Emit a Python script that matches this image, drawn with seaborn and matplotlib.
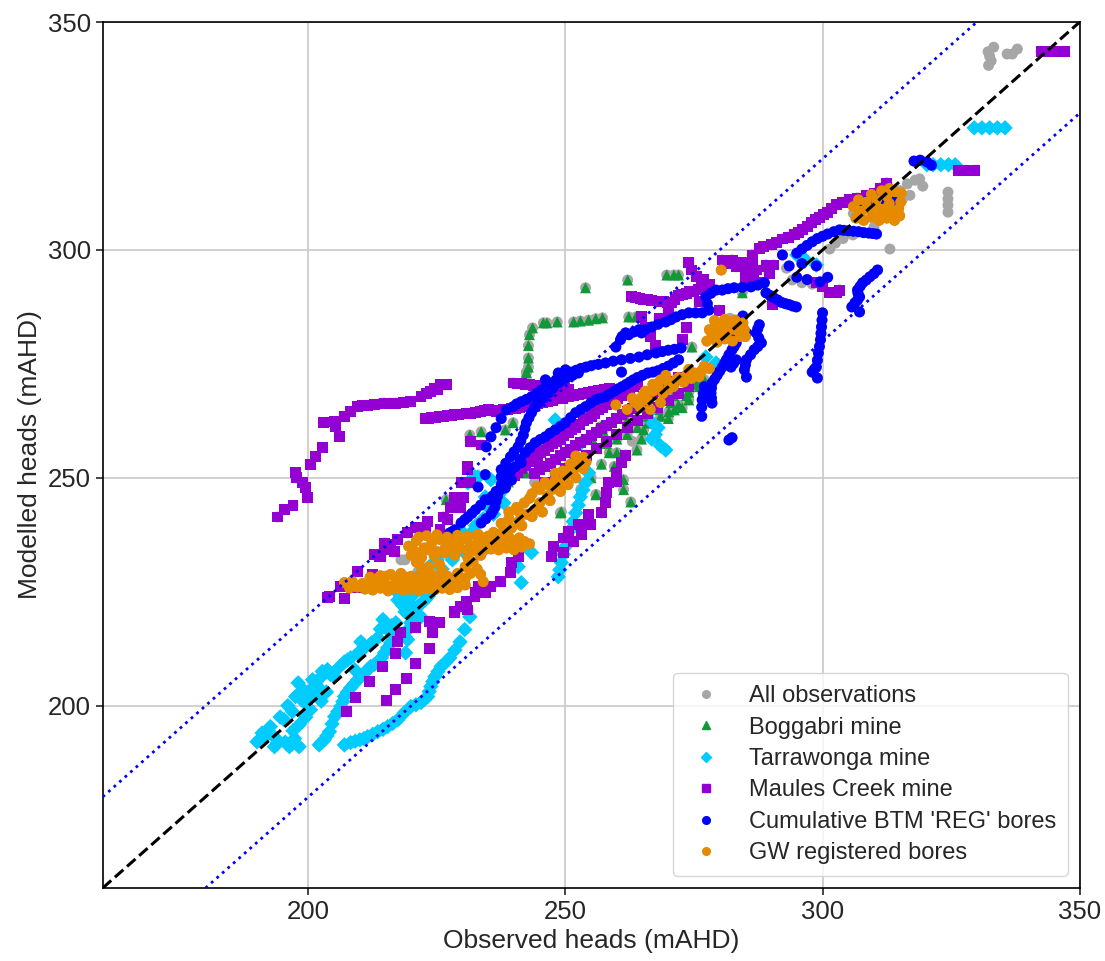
import pandas as pd
import matplotlib
matplotlib.use("Agg")
import matplotlib.pyplot as plt
import seaborn as sns
from matplotlib.lines import Line2D

# (observed, modelled) heads, per group
grey_only = [
    (332.2, 343.5), (332.5, 342.5), (332.8, 341.5), (332.3, 340.5), (333.3, 344.5),
    (335.9, 343.0), (336.9, 343.0), (337.9, 344.1),
    (311.1, 307.7), (312.5, 309.5), (313.5, 311.5), (315.0, 313.0), (316.5, 314.5),
    (318.0, 315.3), (318.9, 315.6), (317.0, 312.0), (315.5, 311.0), (319.5, 314.0),
    (324.4, 312.7), (324.4, 311.2), (324.4, 309.8), (324.4, 308.3),
    (301.4, 300.2), (302.5, 301.5), (304.0, 302.5), (305.9, 303.3),
    (294.1, 293.4), (296.0, 292.8), (298.0, 292.5), (300.0, 292.8), (313.1, 300.2),
    (218.0, 232.0), (221.3, 229.4), (229.1, 227.0), (218.8, 232.0), (229.1, 226.5),
    (306.0, 308.0), (307.5, 309.5), (282.0, 285.0), (263.0, 258.0), (244.0, 249.0),
    (310.0, 305.0), (293.0, 296.0),
]

boggabri = [
    (242.4, 273.0), (242.8, 274.3), (242.8, 276.3), (242.8, 279.0), (243.0, 281.4),
    (243.6, 282.9), (245.7, 284.0), (246.4, 284.0), (248.4, 284.2), (251.6, 284.2),
    (252.9, 284.4), (254.5, 284.6), (255.9, 284.9), (257.2, 285.1), (253.9, 291.7),
    (262.1, 293.4), (262.3, 285.3), (263.7, 285.3), (269.7, 294.5), (271.1, 294.5),
    (272.0, 294.5), (284.4, 290.6), (274.6, 278.7),
    (231.4, 259.4), (233.6, 260.1), (238.3, 260.5), (239.8, 262.1), (242.4, 273.2),
    (226.8, 245.2), (235.0, 244.1), (242.2, 251.1), (238.9, 249.1),
    (249.0, 242.3), (249.2, 242.5), (255.9, 246.3), (256.0, 246.3), (262.7, 244.7),
    (261.3, 249.6), (261.3, 247.4), (255.1, 258.8), (256.8, 261.2), (257.3, 260.4),
    (270.1, 264.5), (271.2, 264.9), (272.7, 265.4), (274.0, 267.1), (276.0, 270.0),
    (265.2, 260.5), (263.9, 256.1), (266.0, 262.0), (268.5, 263.5), (270.5, 266.5),
    (273.5, 268.0), (275.5, 270.5), (277.0, 271.5), (267.5, 259.0), (264.8, 258.5),
    (258.5, 255.5), (259.5, 252.5),
    (258.0, 257.5), (260.0, 258.5), (262.0, 259.5), (264.0, 261.0), (266.0, 263.5),
    (268.0, 265.0), (270.0, 263.0), (272.0, 266.0), (274.0, 268.8), (271.0, 268.0),
    (262.0, 262.5), (260.0, 255.5), (257.0, 253.0), (255.0, 250.0), (253.0, 247.5),
]

tarrawonga = [
    (190.0, 192.1), (191.6, 193.2), (192.6, 195.4), (193.4, 191.0), (194.0, 191.9),
    (196.3, 191.0), (198.2, 191.0), (195.3, 196.9), (196.9, 198.7), (198.2, 195.8),
    (199.2, 200.7), (200.4, 199.1), (201.2, 202.9), (200.8, 205.7), (201.8, 204.2),
    (202.7, 207.5), (203.7, 207.9), (205.1, 206.4), (207.0, 209.6), (208.2, 210.5),
    (209.0, 207.9), (210.2, 214.0), (211.1, 212.9), (213.5, 214.9), (214.5, 218.9),
    (215.4, 216.7), (217.0, 218.2), (217.4, 223.2), (218.8, 220.6), (219.3, 214.5),
    (220.7, 219.5), (219.3, 224.8),
    (196.0, 200.0), (197.5, 202.0), (199.0, 203.5), (198.0, 205.0), (200.0, 201.5),
    (202.5, 201.0), (203.5, 203.0), (194.5, 197.5), (197.0, 194.5),
    (191.0, 194.0), (193.5, 193.0), (195.5, 192.0), (197.3, 192.8), (199.5, 197.5),
    (200.5, 203.5), (202.2, 206.0), (204.3, 206.8), (206.0, 208.5), (207.6, 210.0),
    (209.6, 211.5), (212.3, 213.8), (214.0, 216.8), (216.2, 217.6), (218.3, 222.0),
    (219.8, 222.5), (220.3, 224.2), (218.2, 224.5),
    (202.1, 191.4), (203.1, 192.5), (204.1, 194.3), (205.1, 197.6), (206.3, 199.8),
    (207.0, 202.0), (208.2, 203.9), (209.6, 205.7), (210.9, 207.2), (212.1, 208.6),
    (213.5, 209.4), (214.8, 211.6), (216.0, 213.8), (216.8, 216.7), (218.8, 215.1),
    (218.9, 211.6), (219.9, 218.2), (221.3, 221.7), (222.7, 223.2), (223.8, 224.8),
    (202.6, 192.0), (203.6, 193.4), (204.6, 196.0), (205.7, 198.7), (206.7, 200.9),
    (207.6, 203.0), (208.9, 204.8), (210.3, 206.5), (211.5, 207.9), (212.8, 209.0),
    (214.2, 210.5), (215.4, 212.7), (216.4, 215.3), (219.4, 216.7), (220.6, 220.0),
    (222.0, 222.5), (223.3, 224.0),
    (207.0, 191.4), (208.2, 191.9), (210.0, 192.5), (211.5, 193.2), (213.5, 194.3),
    (215.4, 195.4), (217.4, 196.9), (219.9, 199.8), (221.9, 200.7), (223.2, 202.0),
    (223.8, 204.2), (224.6, 206.4), (225.8, 208.6), (227.5, 210.5), (229.5, 214.0),
    (231.4, 219.5),
    (209.1, 192.2), (210.8, 192.8), (212.5, 193.7), (214.5, 194.8), (216.4, 196.1),
    (218.6, 198.4), (220.9, 200.2), (222.5, 201.3), (223.5, 203.1), (224.2, 205.3),
    (225.2, 207.5), (226.7, 209.5), (228.5, 212.2), (230.4, 216.7),
    (216.8, 225.4), (218.0, 223.5), (220.0, 222.0), (221.9, 219.5), (222.5, 225.0),
    (224.5, 228.0), (226.0, 230.0), (226.6, 236.4), (229.5, 238.6), (231.6, 237.9),
    (233.0, 250.2), (231.0, 248.9), (234.4, 245.8), (232.4, 250.2), (235.5, 249.6),
    (237.5, 246.9), (240.8, 252.4), (242.8, 254.6), (248.0, 262.7), (253.1, 257.7),
    (252.0, 254.6), (241.4, 227.0), (243.4, 233.6), (240.8, 230.5), (236.0, 242.0),
    (238.0, 244.5), (228.0, 232.0), (230.0, 234.0),
    (219.0, 226.0), (220.5, 227.5), (222.0, 229.0), (223.5, 230.5), (225.0, 232.0),
    (227.0, 234.0), (228.5, 236.0), (230.0, 237.0), (232.5, 239.5), (234.0, 241.0),
    (235.0, 243.5),
    (248.6, 228.3), (249.2, 231.4), (250.0, 234.9), (251.0, 238.6), (252.0, 242.3),
    (252.9, 245.8), (253.9, 248.9), (254.5, 251.1), (248.9, 229.8), (249.6, 233.2),
    (250.5, 236.8), (251.5, 240.4), (252.5, 244.0), (253.4, 247.3),
    (266.2, 264.3), (267.0, 262.0), (267.5, 259.5), (268.5, 257.0), (269.5, 256.1),
    (268.0, 261.0), (266.8, 258.5),
    (277.3, 276.5), (279.3, 275.2), (298.8, 296.7), (295.0, 298.9), (296.5, 298.0),
    (320.3, 318.7), (321.5, 318.7), (323.0, 318.7), (324.5, 318.7), (325.8, 318.7),
    (329.5, 326.8), (331.0, 326.8), (332.5, 326.8), (334.0, 326.8), (335.5, 326.8),
]

maules_creek = [
    (194.0, 241.4), (195.3, 243.0), (197.0, 243.9), (197.5, 251.1), (197.7, 250.0),
    (198.8, 248.9), (199.4, 247.8), (199.8, 245.6), (200.4, 252.9), (201.4, 254.6),
    (202.7, 256.6), (202.9, 262.1), (205.0, 262.3), (205.3, 261.2), (206.0, 259.0),
    (207.0, 263.4), (208.2, 264.5), (209.6, 265.6), (212.9, 266.0), (214.8, 266.4),
    (217.0, 266.4), (219.9, 266.7), (221.9, 267.8), (222.9, 268.6), (224.6, 269.7),
    (225.6, 270.4), (226.8, 270.4), (223.8, 268.9), (225.2, 269.4),
    (210.5, 265.8), (211.5, 265.9), (213.8, 266.2), (215.8, 266.4), (218.5, 266.6),
    (222.7, 263.0), (224.0, 263.2), (225.5, 263.4), (227.0, 263.6), (228.5, 263.8),
    (230.0, 264.0), (231.5, 264.2), (233.5, 264.5), (235.0, 264.9), (236.5, 264.6),
    (238.0, 264.9), (239.5, 265.2), (241.0, 265.5), (242.5, 265.8), (244.5, 266.2),
    (246.5, 266.8), (248.5, 267.3), (250.5, 267.8), (252.5, 268.3), (254.5, 268.7),
    (256.5, 269.2), (258.5, 269.5),
    (223.4, 263.1), (224.8, 263.3), (226.2, 263.5), (227.8, 263.7), (229.2, 263.9),
    (230.8, 264.1), (232.5, 264.3), (234.2, 264.7), (235.8, 264.8), (237.2, 264.7),
    (238.8, 265.0), (240.2, 265.3), (241.8, 265.6), (243.5, 266.0), (245.5, 266.5),
    (247.5, 267.0), (249.5, 267.5), (251.5, 268.0), (253.5, 268.5), (255.5, 269.0),
    (257.5, 269.3),
    (239.8, 270.8), (241.5, 270.6), (243.0, 270.4), (244.5, 270.2), (246.0, 270.0),
    (247.5, 269.8), (249.0, 269.6), (250.5, 269.4),
    (240.6, 270.7), (242.2, 270.5), (243.8, 270.3), (245.2, 270.1), (246.8, 269.9),
    (248.2, 269.7), (249.8, 269.5),
    (262.9, 289.7), (264.5, 289.4), (266.0, 289.1), (267.5, 288.8), (269.0, 288.6),
    (270.7, 288.4), (272.0, 290.0), (273.5, 290.5), (275.0, 291.0), (276.5, 291.8),
    (278.0, 292.5),
    (263.7, 289.5), (265.2, 289.2), (266.8, 289.0), (268.2, 288.7), (269.8, 288.5),
    (271.3, 289.2), (272.8, 290.2), (274.2, 290.8), (275.8, 291.4), (277.2, 292.1),
    (274.0, 297.2), (274.6, 295.6), (275.4, 294.1), (276.8, 293.5),
    (280.5, 297.8), (281.8, 297.0), (283.2, 296.3), (283.8, 297.2), (285.2, 296.0),
    (286.5, 295.0), (285.0, 293.8), (286.5, 293.3), (288.0, 292.8),
    (298.8, 292.8), (300.0, 292.0), (301.4, 290.6),
    (282.4, 297.8), (283.5, 296.7), (285.0, 295.8), (285.7, 297.2), (287.1, 295.6),
    (289.0, 296.7), (290.5, 296.7), (286.3, 298.9),
    (264.8, 285.3), (265.5, 283.0), (266.5, 281.0), (267.5, 279.0), (268.2, 285.0),
    (272.7, 280.3), (273.6, 282.9), (279.9, 286.8), (276.0, 288.6), (270.0, 286.5),
    (286.3, 296.7), (287.7, 300.4), (290.0, 301.1), (292.2, 302.4), (294.5, 303.3),
    (296.1, 304.4), (297.8, 306.1), (299.4, 307.2), (301.0, 308.3), (302.7, 309.9),
    (303.9, 310.5), (306.8, 311.4), (310.2, 312.5), (312.5, 314.7), (289.0, 296.3),
    (289.6, 294.9), (303.3, 291.2), (302.7, 290.6), (290.2, 288.0),
    (288.5, 300.7), (291.1, 301.7), (293.3, 302.8), (295.3, 303.8), (297.0, 305.2),
    (298.6, 306.6), (300.2, 307.7), (301.8, 309.0), (305.3, 311.0), (308.5, 312.0),
    (311.3, 313.6),
    (326.5, 317.5), (328.0, 317.5), (329.5, 317.5),
    (342.5, 343.6), (344.0, 343.6), (345.5, 343.6), (347.0, 343.6),
    (203.7, 223.7), (207.0, 223.5), (206.3, 226.1), (209.0, 225.9), (209.6, 229.4),
    (212.5, 228.7), (212.9, 233.1), (214.1, 232.7), (215.8, 234.9), (217.4, 236.4),
    (219.3, 237.9), (220.9, 239.0), (222.7, 239.0), (223.2, 240.4), (204.1, 223.9),
    (209.2, 225.9), (223.6, 218.4), (225.6, 218.2), (224.2, 216.0), (220.9, 217.1),
    (218.0, 216.0), (217.4, 214.0), (223.6, 212.5), (217.0, 211.4), (220.9, 209.2),
    (214.5, 208.6), (219.1, 205.9), (211.9, 205.3), (217.0, 203.5), (209.2, 201.8),
    (215.2, 201.1), (207.4, 198.7), (228.5, 220.6), (229.5, 221.7), (230.7, 222.8),
    (231.0, 221.0), (232.4, 224.8),
    (231.0, 251.8), (228.5, 245.6), (230.1, 245.6), (227.7, 243.4), (229.5, 243.4),
    (226.2, 241.4), (227.1, 240.8), (225.6, 238.6), (216.0, 235.3), (214.8, 234.2),
    (216.8, 233.8), (213.9, 232.7), (214.8, 235.7), (231.6, 257.9), (233.6, 257.2),
    (231.0, 252.4), (229.7, 248.9), (231.6, 248.9),
    (257.0, 242.3), (257.8, 244.5), (258.0, 246.7), (258.4, 248.9), (260.0, 249.1),
    (254.5, 241.9), (254.9, 239.7), (252.9, 239.7), (253.1, 237.5), (251.6, 236.0),
    (250.6, 238.2), (249.6, 233.6), (260.0, 251.1), (260.9, 253.3), (261.7, 255.0),
    (252.5, 239.7), (249.6, 236.8), (247.7, 234.9), (247.3, 232.7), (240.8, 232.7),
    (239.5, 231.4), (239.3, 229.2), (237.3, 227.2), (235.5, 226.1), (233.0, 226.1),
    (234.4, 224.8), (232.4, 223.9), (231.0, 221.0), (228.5, 220.4),
    (240.0, 250.5), (241.5, 252.0), (243.0, 253.5), (244.5, 255.0), (246.0, 256.0),
    (247.5, 257.5), (249.0, 258.5), (250.5, 260.0), (252.0, 261.0), (253.5, 262.5),
    (255.0, 263.5), (256.5, 265.0), (258.0, 266.0), (259.5, 267.0), (261.0, 268.0),
    (262.5, 269.5), (264.0, 270.5),
    (240.7, 251.2), (242.2, 252.7), (243.7, 254.2), (245.2, 255.5), (246.7, 256.8),
    (248.2, 258.0), (249.7, 259.2), (251.2, 260.5), (252.7, 261.8), (254.2, 263.0),
    (255.7, 264.2), (257.2, 265.5), (258.7, 266.5), (260.2, 267.5), (261.7, 268.7),
    (263.2, 270.0),
    (244.0, 251.0), (246.0, 252.5), (248.0, 254.0), (250.0, 255.5), (252.0, 257.0),
    (254.0, 258.5), (256.0, 260.0), (258.0, 261.5), (260.0, 263.0), (262.0, 264.5),
    (264.0, 266.0), (266.0, 267.5), (268.0, 269.0), (270.0, 270.5), (272.0, 272.0),
    (245.0, 251.8), (247.0, 253.2), (249.0, 254.8), (251.0, 256.2), (253.0, 257.8),
    (255.0, 259.2), (257.0, 260.8), (259.0, 262.2), (261.0, 263.8), (263.0, 265.2),
    (265.0, 266.8), (267.0, 268.2), (269.0, 269.8), (271.0, 271.2),
    (246.0, 249.0), (248.0, 250.5), (250.0, 252.0), (252.0, 253.5), (254.0, 255.0),
    (256.0, 256.5), (258.0, 258.0), (260.0, 259.5), (262.0, 261.0), (264.0, 262.5),
    (266.0, 264.0), (268.0, 265.5), (270.0, 267.0), (272.0, 268.5), (274.0, 270.0),
]

btm_reg = [
    (234.6, 256.8), (236.5, 261.0), (238.5, 264.9), (239.8, 265.6), (241.4, 266.7),
    (243.4, 267.8), (245.3, 269.3), (247.3, 270.8), (249.2, 272.1), (251.2, 273.2),
    (253.0, 274.0), (255.0, 274.6), (257.8, 275.2), (260.9, 275.9), (264.3, 276.5),
    (267.6, 277.4), (270.0, 278.0), (272.5, 278.5),
    (235.5, 259.0), (237.5, 263.0), (240.5, 266.2), (242.4, 267.2), (244.4, 268.5),
    (246.3, 270.0), (248.2, 271.5), (250.2, 272.6), (252.1, 273.6), (254.0, 274.3),
    (256.4, 274.9), (259.3, 275.6), (262.6, 276.2), (265.9, 277.0), (268.8, 277.7),
    (271.2, 278.2),
    (233.6, 240.1), (235.5, 242.0), (236.3, 243.6), (236.8, 246.0), (237.5, 248.5),
    (237.5, 251.8), (239.3, 254.6), (240.8, 256.8), (241.8, 259.4), (242.4, 262.1),
    (243.4, 264.3), (244.7, 266.4), (246.7, 268.6), (248.6, 270.8), (250.2, 271.9),
    (252.5, 273.0), (248.6, 273.0), (246.1, 271.5), (250.0, 273.7),
    (234.5, 241.0), (235.9, 242.8), (236.5, 244.8), (237.1, 247.2), (237.5, 250.2),
    (238.4, 253.2), (240.0, 255.7), (241.3, 258.1), (242.1, 260.8), (242.9, 263.2),
    (244.0, 265.4), (245.7, 267.5), (247.6, 269.7), (249.4, 271.4), (251.4, 272.5),
    (238.3, 250.2), (240.2, 252.4), (242.2, 255.5), (244.1, 257.7), (246.1, 259.0),
    (248.0, 260.5), (250.0, 262.1), (252.0, 264.3), (253.9, 265.6), (255.9, 267.1),
    (257.8, 267.8), (259.5, 269.0), (261.0, 270.0), (262.5, 271.0), (264.0, 272.0),
    (266.0, 273.0), (268.0, 273.5), (270.0, 274.5), (272.0, 275.9),
    (239.3, 251.3), (241.2, 254.0), (243.1, 256.6), (245.1, 258.4), (247.0, 259.8),
    (249.0, 261.3), (251.0, 263.2), (253.0, 265.0), (254.9, 266.4), (256.8, 267.5),
    (258.6, 268.4), (260.2, 269.5), (261.8, 270.5), (263.2, 271.5), (265.0, 272.5),
    (267.0, 273.2), (269.0, 274.0), (271.0, 275.2),
    (227.5, 237.9), (228.5, 238.6), (229.7, 240.1), (231.0, 241.4), (232.5, 243.0),
    (234.4, 245.2), (235.0, 245.2), (236.5, 247.0), (238.3, 247.8), (239.5, 249.5),
    (241.4, 253.3), (233.0, 248.0), (234.4, 250.7), (238.3, 248.0),
    (228.0, 238.2), (230.4, 240.8), (231.8, 242.2), (233.5, 244.0), (235.8, 246.0),
    (237.4, 247.4),
    (259.8, 278.7), (260.7, 280.3), (261.7, 281.8), (262.3, 281.4), (264.3, 282.5),
    (264.8, 281.8), (266.8, 283.1), (269.5, 284.2), (271.5, 285.3), (274.0, 286.2),
    (276.6, 286.2), (277.9, 286.8), (277.3, 289.7), (279.3, 291.2), (280.5, 291.2),
    (282.8, 291.7), (286.1, 291.9), (288.7, 292.8), (260.9, 273.2),
    (261.0, 281.0), (263.3, 282.0), (265.5, 282.5), (268.0, 283.7), (270.5, 284.7),
    (272.7, 285.8), (275.3, 286.2), (277.6, 288.2), (278.3, 290.5), (281.6, 291.5),
    (284.4, 291.8), (287.4, 292.3),
    (278.5, 266.4), (278.3, 268.6), (278.5, 270.8), (279.5, 272.5), (280.5, 274.3),
    (281.3, 275.9), (282.4, 278.1), (283.2, 279.6), (282.4, 282.5),
    (278.4, 267.5), (278.4, 269.7), (279.0, 271.6), (280.0, 273.4), (280.9, 275.1),
    (281.8, 277.0), (282.8, 278.8), (282.8, 281.0),
    (287.7, 283.6), (287.1, 281.8), (288.1, 279.6), (286.7, 278.1), (285.2, 275.9),
    (284.8, 273.7), (285.2, 272.1), (283.8, 284.6), (285.2, 281.8), (283.2, 275.9),
    (282.2, 274.3), (276.6, 267.1), (277.0, 270.0), (281.8, 258.3), (282.4, 258.8),
    (287.4, 282.7), (287.6, 280.7), (287.4, 278.8), (286.0, 277.0), (285.0, 274.8),
    (284.5, 285.5), (282.7, 275.1), (276.8, 268.5), (276.5, 265.5), (276.5, 263.5),
    (289.0, 290.6), (290.5, 289.5), (292.0, 288.5), (293.5, 288.0), (294.9, 287.5),
    (289.8, 290.0), (291.3, 289.0), (292.8, 288.2), (294.2, 287.7),
    (300.0, 286.2), (299.8, 283.1), (299.6, 280.3), (299.2, 277.4), (298.8, 274.3),
    (298.0, 273.2), (299.0, 271.9),
    (299.9, 284.6), (299.7, 281.7), (299.4, 278.8), (299.0, 275.8), (298.4, 273.8),
    (310.7, 295.6), (309.2, 294.1), (307.8, 292.8), (306.8, 291.2), (307.2, 289.7),
    (306.3, 288.4), (305.7, 287.5), (307.2, 286.4),
    (310.0, 294.8), (308.5, 293.4), (307.3, 292.0), (306.9, 290.5), (306.8, 289.0),
    (292.2, 298.9), (293.5, 296.5), (295.0, 294.0), (297.0, 293.5), (299.5, 293.0),
    (301.0, 294.0), (296.0, 297.0), (298.8, 296.5),
    (295.0, 299.3), (297.0, 301.0), (299.0, 302.5), (301.0, 303.5), (303.3, 304.4),
    (305.0, 304.2), (307.0, 304.0), (309.0, 303.7), (310.5, 303.5),
    (296.0, 300.2), (298.0, 301.8), (300.0, 303.0), (302.2, 304.0), (304.1, 304.3),
    (306.0, 304.1), (308.0, 303.8), (309.8, 303.6),
    (308.0, 310.5), (309.5, 311.0), (311.0, 311.4), (312.5, 311.0), (314.0, 310.5),
    (308.8, 310.8), (310.3, 311.2), (311.8, 311.2), (313.3, 310.8),
    (317.8, 319.5), (319.0, 319.7), (320.3, 319.3), (321.2, 318.6),
]

gw_registered = [
    (207.0, 227.0), (208.5, 227.3), (210.5, 226.8), (212.5, 226.5), (214.0, 227.2),
    (215.5, 226.3), (217.0, 226.8), (218.5, 227.4), (220.0, 226.2), (221.5, 226.9),
    (223.0, 227.3), (224.5, 226.5), (226.0, 227.0), (227.5, 226.3), (229.0, 227.5),
    (230.5, 228.0), (231.5, 229.0), (232.8, 230.0), (233.5, 228.8),
    (208.0, 225.8), (209.5, 226.0), (211.0, 225.6), (212.5, 225.4), (214.0, 225.8),
    (215.5, 225.2), (217.0, 225.6), (218.5, 225.3), (220.0, 225.5), (221.5, 225.2),
    (223.0, 225.6), (224.5, 225.4), (226.0, 225.8), (227.5, 225.5), (229.0, 225.9),
    (230.5, 226.5),
    (212.0, 228.2), (213.5, 228.0), (215.0, 228.4), (217.0, 227.8), (219.0, 228.2),
    (221.0, 227.7), (223.0, 228.3), (225.0, 228.0), (227.0, 228.4), (229.0, 228.6),
    (214.0, 228.5), (216.0, 228.8), (218.0, 229.0), (220.0, 228.4), (222.0, 229.5),
    (224.0, 228.8), (226.0, 229.6), (221.5, 231.2), (223.5, 230.5), (225.5, 231.0),
    (219.5, 235.0), (221.0, 236.2), (222.5, 234.6), (224.0, 235.8), (225.5, 236.5),
    (227.0, 234.9), (228.5, 235.9), (230.0, 236.6), (231.5, 235.2), (233.0, 236.3),
    (234.5, 235.0), (236.0, 236.0), (237.5, 235.5), (239.0, 235.8), (240.5, 235.4),
    (242.0, 236.0), (220.0, 233.0), (221.0, 231.5), (222.0, 232.5), (224.5, 232.8),
    (226.5, 233.5), (228.5, 233.0),
    (220.5, 234.0), (222.0, 233.6), (223.5, 234.2), (225.0, 233.8), (226.5, 234.4),
    (228.0, 234.0), (229.5, 234.6), (231.0, 234.2), (232.5, 234.6), (234.0, 234.0),
    (235.5, 234.4), (237.0, 234.2), (238.5, 234.6), (240.0, 234.2), (241.5, 234.8),
    (243.0, 235.5),
    (221.5, 237.0), (223.0, 237.3), (225.0, 237.5), (227.0, 237.0), (229.0, 237.4),
    (231.0, 237.2), (233.0, 237.6), (235.0, 237.2), (237.0, 237.4), (239.0, 237.0),
    (241.0, 236.8),
    (229.0, 229.0), (230.5, 230.5), (232.0, 231.5), (233.5, 233.0), (235.0, 234.5),
    (236.5, 236.0), (238.0, 237.5), (239.5, 239.0), (241.0, 240.5), (242.5, 242.0),
    (244.0, 243.0), (245.0, 244.5), (246.5, 246.0), (247.5, 247.5), (249.0, 249.0),
    (250.0, 250.5), (251.5, 251.5), (252.5, 252.5), (248.0, 251.0), (246.0, 249.0),
    (244.5, 248.0), (243.0, 245.5), (241.0, 242.5), (239.0, 241.0), (238.0, 238.5),
    (250.5, 248.5), (252.0, 250.0), (253.5, 252.0), (254.0, 253.5), (252.8, 254.0),
    (231.0, 232.5), (232.5, 234.0), (234.0, 236.8), (236.0, 238.0), (237.5, 240.0),
    (239.0, 242.5), (240.5, 243.5), (242.0, 244.5), (243.5, 246.5), (245.0, 247.5),
    (246.5, 248.5), (248.0, 249.5), (249.5, 251.5), (251.0, 253.0), (252.0, 254.8),
    (253.5, 254.5), (249.0, 247.0), (247.0, 245.0), (245.5, 242.5), (243.5, 241.5),
    (241.5, 239.5),
    (234.0, 227.2),
    (263.5, 266.5), (265.0, 268.0), (266.0, 267.0), (267.0, 269.0), (268.0, 270.0),
    (269.0, 268.5), (270.0, 271.0), (271.0, 270.0), (272.0, 272.0), (273.5, 272.5),
    (275.0, 273.0), (276.5, 273.5), (278.0, 274.0), (266.5, 265.0), (264.5, 265.5),
    (268.5, 266.5), (259.8, 266.0),
    (262.0, 265.0), (263.0, 267.5), (264.5, 267.0), (265.5, 269.0), (267.0, 270.5),
    (268.5, 271.5), (270.0, 269.5), (271.5, 271.5), (273.0, 271.0), (274.5, 271.8),
    (276.0, 272.2), (277.0, 274.5), (274.0, 273.8), (269.5, 272.5),
    (277.5, 280.0), (278.5, 281.5), (279.5, 283.0), (280.5, 283.8), (282.0, 284.2),
    (283.5, 283.5), (284.8, 282.5), (284.0, 281.0), (282.5, 280.0), (281.0, 280.5),
    (279.5, 279.8), (280.0, 282.0), (280.3, 295.6),
    (278.0, 282.5), (279.0, 284.5), (281.0, 284.8), (283.0, 284.6), (284.5, 284.0),
    (285.0, 281.0), (283.0, 282.5), (281.5, 282.0), (278.8, 280.8),
    (306.5, 307.0), (308.0, 306.5), (309.5, 307.2), (311.0, 306.5), (312.5, 307.0),
    (314.0, 306.5), (315.0, 307.5), (314.8, 309.0), (313.5, 308.5), (312.0, 309.0),
    (310.5, 309.5), (309.0, 309.0), (307.5, 308.5), (308.5, 310.5), (310.5, 311.0),
    (312.5, 311.8), (314.0, 312.8), (315.2, 310.5), (313.0, 310.2),
    (306.0, 309.5), (307.0, 311.0), (309.5, 312.2), (311.5, 313.0), (313.0, 313.5),
    (315.3, 312.5), (311.8, 308.0), (309.8, 308.2), (307.2, 307.8),
]

labels = ["All observations", "Boggabri mine", "Tarrawonga mine",
          "Maules Creek mine", "Cumulative BTM 'REG' bores", "GW registered bores"]
colors = ["#a6a6a6", "#119838", "#00ccff", "#9400d3", "#0000ff", "#e68a00"]
markers = ["o", "^", "D", "s", "o", "o"]

groups = [boggabri, tarrawonga, maules_creek, btm_reg, gw_registered]
all_obs = grey_only + [p for g in groups for p in g]

frames = []
for name, pts in zip(labels, [all_obs] + groups):
    frames.append(pd.DataFrame(pts, columns=["observed", "modelled"]).assign(series=name))
df = pd.concat(frames, ignore_index=True)

sns.set_style("ticks")
plt.rcParams["font.family"] = ["Liberation Sans", "DejaVu Sans"]

fig = plt.figure(figsize=(11.05, 9.61), dpi=100)
ax = fig.add_axes([0.093, 0.076, 0.884, 0.901])

sns.scatterplot(
    data=df, x="observed", y="modelled",
    hue="series", style="series",
    palette=dict(zip(labels, colors)),
    markers=dict(zip(labels, markers)),
    s=62, linewidth=0, legend=False, ax=ax
)

ax.axline((0, 0), slope=1, color="black", linestyle="--", linewidth=2.2, zorder=3)
ax.axline((0, 20), slope=1, color="blue", linestyle=":", linewidth=2, zorder=3)
ax.axline((0, -20), slope=1, color="blue", linestyle=":", linewidth=2, zorder=3)

ax.set_xlim(160, 350)
ax.set_ylim(160, 350)
ax.set_xticks([200, 250, 300, 350])
ax.set_yticks([200, 250, 300, 350])
ax.grid(True, color="#c8c8c8", linewidth=1.2)
ax.set_axisbelow(True)
for sp in ax.spines.values():
    sp.set_color("black")
    sp.set_linewidth(1.2)
ax.tick_params(labelsize=18.5, length=5, width=1.2)
ax.set_xlabel("Observed heads (mAHD)", fontsize=19)
ax.set_ylabel("Modelled heads (mAHD)", fontsize=19)

handles = [Line2D([], [], linestyle="none", marker=m, color=c, markersize=5.5)
           for m, c in zip(markers, colors)]
ax.legend(handles, labels, loc="lower right", fontsize=17, frameon=True,
          handlelength=1.8, handletextpad=0.9, borderpad=0.5, labelspacing=0.4)

fig.savefig("out.png", dpi=100)
